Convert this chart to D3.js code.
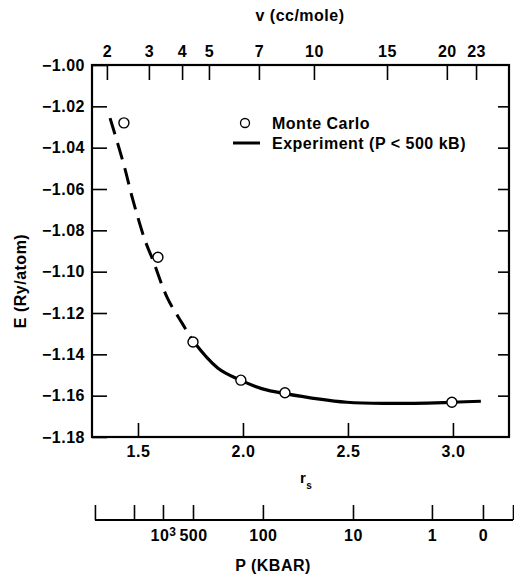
<!DOCTYPE html>
<html>
<head>
<meta charset="utf-8">
<script src="https://cdn.jsdelivr.net/npm/d3@7"></script>
<style>
  body { margin: 0; background: #fff; }
  text { font-family: "Liberation Sans", Arial, sans-serif; font-weight: bold; fill: #000; letter-spacing: 0.5px; }
</style>
</head>
<body>
<div id="chart"></div>
<script>
// Monte Carlo points (r_s, E)
var mcRs = [1.433, 1.595, 1.762, 1.990, 2.200, 2.995];
var mcE = [-1.028, -1.093, -1.134, -1.1525, -1.1586, -1.1632];

// experiment curve; dashed below rs = 1.765
var curveRs = [1.367, 1.433, 1.476, 1.533, 1.571, 1.638, 1.710, 1.765, 1.881, 1.988, 2.089, 2.200, 2.495, 2.733, 3.000, 3.133];
var curveE = [-1.0257, -1.0484, -1.0654, -1.0847, -1.0944, -1.1123, -1.1249, -1.1338, -1.1467, -1.1525, -1.1566, -1.1590, -1.1632, -1.1637, -1.1632, -1.1627];
var dashEnd = 1.765;

// axis ticks
var yTicks = [-1.00, -1.02, -1.04, -1.06, -1.08, -1.10, -1.12, -1.14, -1.16, -1.18];
var xTicks = [1.5, 2.0, 2.5, 3.0];
// volume axis on top: tick position in r_s, label in cc/mole
var vTickRs = [1.352, 1.552, 1.710, 1.838, 2.076, 2.338, 2.686, 2.971, 3.110];
var vLabels = ["2", "3", "4", "5", "7", "10", "15", "20", "23"];
// pressure axis below: tick position in r_s, label in kbar
var pTickRs = [1.295, 1.481, 1.619, 1.762, 2.095, 2.524, 2.900, 3.143, 3.286];
var pLabels = ["", "", "10^3", "500", "100", "10", "1", "0", ""];

var svgWidth = 514;
var svgHeight = 575;
var margin = { top: 65, left: 92 };
var width = 417;
var height = 372;

var svg = d3.select("#chart")
  .append("svg")
  .attr("width", svgWidth)
  .attr("height", svgHeight);

var x = d3.scaleLinear().domain([1.281, 3.267]).range([0, width]);
var y = d3.scaleLinear().domain([-1.18, -1.00]).range([height, 0]);

var g = svg.append("g")
  .attr("transform", `translate(${margin.left}, ${margin.top})`);

var fmtY = d => d3.format(".2f")(d).replace("-", "\u2013");

// left axis, ticks inward
g.append("g")
  .call(d3.axisLeft(y).tickValues(yTicks).tickSize(-15).tickPadding(7).tickFormat(fmtY));

// right axis, ticks inward, no labels
g.append("g")
  .attr("transform", `translate(${width}, 0)`)
  .call(d3.axisRight(y).tickValues(yTicks.slice(1, -1)).tickSize(-11).tickFormat(""));

// bottom r_s axis, ticks up
g.append("g")
  .attr("transform", `translate(0, ${height})`)
  .call(d3.axisBottom(x).tickValues(xTicks).tickSize(-14).tickPadding(9).tickFormat(d3.format(".1f")));

// top v axis, ticks down
g.append("g")
  .call(d3.axisTop(x).tickValues(vTickRs).tickSize(-15).tickPadding(8)
    .tickFormat((d, i) => vLabels[i]));

g.selectAll(".domain").remove();
g.selectAll(".tick line").attr("stroke", "#000").attr("stroke-width", 1.6);
g.selectAll(".tick text").attr("font-size", "16px").attr("fill", "#000");

// frame
g.append("rect")
  .attr("width", width)
  .attr("height", height)
  .attr("fill", "none")
  .attr("stroke", "#000")
  .attr("stroke-width", 2.2);

// experiment curve: one smooth path, clipped into dashed and solid parts
var defs = svg.append("defs");
defs.append("clipPath").attr("id", "clipDash").append("rect")
  .attr("x", -20).attr("y", -20).attr("width", x(dashEnd) + 20).attr("height", height + 40);
defs.append("clipPath").attr("id", "clipSolid").append("rect")
  .attr("x", x(dashEnd)).attr("y", -20).attr("width", width).attr("height", height + 40);

var line = d3.line()
  .x(d => x(d[0]))
  .y(d => y(d[1]))
  .curve(d3.curveCatmullRom.alpha(0.5));

var curveData = curveRs.map((r, i) => [r, curveE[i]]);

g.append("path")
  .datum(curveData)
  .attr("d", line)
  .attr("clip-path", "url(#clipDash)")
  .attr("fill", "none")
  .attr("stroke", "#000")
  .attr("stroke-width", 3)
  .attr("stroke-dasharray", "17,9");

g.append("path")
  .datum(curveData)
  .attr("d", line)
  .attr("clip-path", "url(#clipSolid)")
  .attr("fill", "none")
  .attr("stroke", "#000")
  .attr("stroke-width", 3.2);

g.selectAll("circle.mc")
  .data(mcRs.map((r, i) => [r, mcE[i]]))
  .enter()
  .append("circle")
  .attr("class", "mc")
  .attr("cx", d => x(d[0]))
  .attr("cy", d => y(d[1]))
  .attr("r", 5)
  .attr("fill", "#fff")
  .attr("stroke", "#000")
  .attr("stroke-width", 1.4);

// legend
svg.append("circle")
  .attr("cx", 245).attr("cy", 123).attr("r", 4.5)
  .attr("fill", "#fff").attr("stroke", "#000").attr("stroke-width", 1.3);
svg.append("text").attr("x", 272).attr("y", 129).attr("font-size", "16px").text("Monte Carlo");
svg.append("line")
  .attr("x1", 233).attr("x2", 260).attr("y1", 143).attr("y2", 143)
  .attr("stroke", "#000").attr("stroke-width", 3);
svg.append("text").attr("x", 272).attr("y", 149).attr("font-size", "16px").text("Experiment (P < 500 kB)");

// axis titles
svg.append("text")
  .attr("x", 300).attr("y", 21)
  .attr("text-anchor", "middle").attr("font-size", "16px")
  .text("v (cc/mole)");

svg.append("text")
  .attr("transform", "translate(26, 281) rotate(-90)")
  .attr("text-anchor", "middle").attr("font-size", "16px")
  .text("E (Ry/atom)");

var rs = svg.append("text")
  .attr("x", 300).attr("y", 483)
  .attr("font-size", "15px")
  .text("r");
rs.append("tspan").attr("dy", 6).attr("font-size", "10px").text("s");

// pressure axis
var gp = svg.append("g").attr("transform", "translate(0, 520)");
gp.append("line")
  .attr("x1", x(pTickRs[0]) + margin.left).attr("x2", x(pTickRs[pTickRs.length - 1]) + margin.left)
  .attr("stroke", "#000").attr("stroke-width", 2);
gp.call(d3.axisBottom(d3.scaleLinear().domain(x.domain()).range(x.range().map(v => v + margin.left)))
  .tickValues(pTickRs).tickSize(-15).tickPadding(10)
  .tickFormat((d, i) => pLabels[i]));
gp.select(".domain").remove();
gp.selectAll(".tick line").attr("stroke", "#000").attr("stroke-width", 1.6);
gp.selectAll(".tick text").attr("font-size", "16px").attr("fill", "#000")
  .each(function(d, i) {
    var parts = pLabels[i].split("^");
    if (parts.length === 2) {
      var t = d3.select(this).text(parts[0]);
      t.append("tspan").attr("dy", "-0.45em").attr("font-size", "12px").text(parts[1]);
    }
  });

svg.append("text")
  .attr("x", 273).attr("y", 571)
  .attr("text-anchor", "middle").attr("font-size", "16px")
  .text("P (KBAR)");
</script>
</body>
</html>
